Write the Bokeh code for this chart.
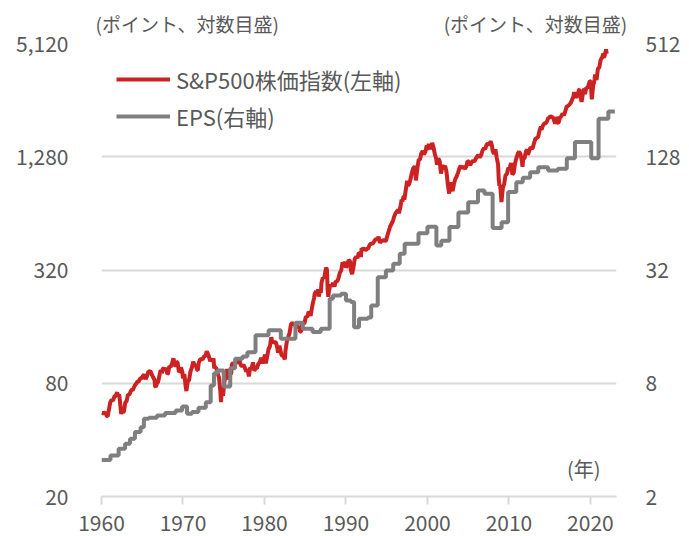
from bokeh.plotting import figure
from bokeh.models import (Range1d, LogScale, LogAxis, FixedTicker, NumeralTickFormatter,
                          Label, Legend, LegendItem)
from bokeh.embed import file_html
from bokeh.resources import INLINE

# ---------------- data ----------------
# S&P500 index (left axis), month-end closes
sp_months = [
    "1960-01", "1960-03", "1960-05", "1960-07", "1960-09", "1960-10", "1960-12",
    "1961-02", "1961-04", "1961-06", "1961-08", "1961-10", "1961-12",
    "1962-01", "1962-03", "1962-04", "1962-05", "1962-06", "1962-08", "1962-09", "1962-10", "1962-12",
    "1963-02", "1963-04", "1963-06", "1963-08", "1963-10", "1963-11", "1963-12",
    "1964-02", "1964-04", "1964-06", "1964-08", "1964-10", "1964-12",
    "1965-02", "1965-04", "1965-06", "1965-08", "1965-10", "1965-12",
    "1966-01", "1966-03", "1966-05", "1966-07", "1966-08", "1966-09", "1966-11", "1966-12",
    "1967-02", "1967-04", "1967-06", "1967-07", "1967-09", "1967-10", "1967-12",
    "1968-02", "1968-03", "1968-05", "1968-07", "1968-09", "1968-11", "1968-12",
    "1969-02", "1969-04", "1969-05", "1969-07", "1969-09", "1969-10", "1969-12",
    "1970-01", "1970-03", "1970-05", "1970-06", "1970-08", "1970-10", "1970-12",
    "1971-02", "1971-04", "1971-06", "1971-08", "1971-10", "1971-11", "1971-12",
    "1972-02", "1972-04", "1972-06", "1972-08", "1972-10", "1972-12",
    "1973-01", "1973-03", "1973-05", "1973-07", "1973-08", "1973-10", "1973-11", "1973-12",
    "1974-02", "1974-04", "1974-06", "1974-07", "1974-08", "1974-09", "1974-10", "1974-11", "1974-12",
    "1975-02", "1975-04", "1975-06", "1975-07", "1975-09", "1975-10", "1975-12",
    "1976-01", "1976-03", "1976-05", "1976-07", "1976-09", "1976-11", "1976-12",
    "1977-02", "1977-04", "1977-06", "1977-08", "1977-10", "1977-12",
    "1978-02", "1978-04", "1978-06", "1978-08", "1978-10", "1978-12",
    "1979-02", "1979-04", "1979-06", "1979-08", "1979-10", "1979-12",
    "1980-02", "1980-03", "1980-05", "1980-07", "1980-09", "1980-11", "1980-12",
    "1981-02", "1981-04", "1981-06", "1981-08", "1981-09", "1981-11", "1981-12",
    "1982-02", "1982-03", "1982-05", "1982-07", "1982-08", "1982-10", "1982-12",
    "1983-02", "1983-04", "1983-06", "1983-08", "1983-10", "1983-12",
    "1984-02", "1984-04", "1984-05", "1984-07", "1984-08", "1984-10", "1984-12",
    "1985-02", "1985-04", "1985-06", "1985-08", "1985-09", "1985-11", "1985-12",
    "1986-02", "1986-03", "1986-05", "1986-07", "1986-08", "1986-09", "1986-11", "1986-12",
    "1987-01", "1987-03", "1987-05", "1987-07", "1987-08", "1987-09", "1987-10", "1987-11", "1987-12",
    "1988-02", "1988-04", "1988-06", "1988-08", "1988-10", "1988-12",
    "1989-02", "1989-04", "1989-06", "1989-08", "1989-10", "1989-12",
    "1990-01", "1990-03", "1990-05", "1990-07", "1990-08", "1990-10", "1990-12",
    "1991-02", "1991-04", "1991-06", "1991-08", "1991-10", "1991-11", "1991-12",
    "1992-02", "1992-04", "1992-06", "1992-08", "1992-10", "1992-12",
    "1993-02", "1993-04", "1993-06", "1993-08", "1993-10", "1993-12",
    "1994-01", "1994-03", "1994-05", "1994-07", "1994-09", "1994-11", "1994-12",
    "1995-02", "1995-04", "1995-06", "1995-08", "1995-10", "1995-12",
    "1996-02", "1996-04", "1996-06", "1996-07", "1996-09", "1996-11", "1996-12",
    "1997-02", "1997-03", "1997-05", "1997-07", "1997-08", "1997-10", "1997-12",
    "1998-02", "1998-04", "1998-06", "1998-07", "1998-08", "1998-10", "1998-12",
    "1999-02", "1999-04", "1999-06", "1999-08", "1999-10", "1999-12",
    "2000-01", "2000-03", "2000-05", "2000-07", "2000-08", "2000-10", "2000-12",
    "2001-02", "2001-03", "2001-05", "2001-07", "2001-09", "2001-11", "2001-12",
    "2002-02", "2002-03", "2002-05", "2002-07", "2002-09", "2002-11", "2002-12",
    "2003-02", "2003-04", "2003-06", "2003-08", "2003-10", "2003-12",
    "2004-02", "2004-04", "2004-06", "2004-08", "2004-10", "2004-12",
    "2005-02", "2005-04", "2005-06", "2005-08", "2005-10", "2005-12",
    "2006-02", "2006-04", "2006-06", "2006-08", "2006-10", "2006-12",
    "2007-02", "2007-04", "2007-06", "2007-08", "2007-10", "2007-12",
    "2008-01", "2008-03", "2008-05", "2008-07", "2008-09", "2008-10", "2008-11", "2008-12",
    "2009-01", "2009-02", "2009-04", "2009-06", "2009-08", "2009-10", "2009-12",
    "2010-02", "2010-04", "2010-06", "2010-08", "2010-10", "2010-12",
    "2011-02", "2011-04", "2011-06", "2011-08", "2011-09", "2011-10", "2011-12",
    "2012-02", "2012-04", "2012-05", "2012-07", "2012-09", "2012-11", "2012-12",
    "2013-02", "2013-04", "2013-06", "2013-08", "2013-10", "2013-12",
    "2014-01", "2014-03", "2014-05", "2014-07", "2014-09", "2014-11", "2014-12",
    "2015-02", "2015-04", "2015-06", "2015-08", "2015-09", "2015-11", "2015-12",
    "2016-01", "2016-02", "2016-04", "2016-06", "2016-08", "2016-10", "2016-12",
    "2017-02", "2017-04", "2017-06", "2017-08", "2017-10", "2017-12",
    "2018-01", "2018-02", "2018-04", "2018-06", "2018-08", "2018-09", "2018-10", "2018-12",
    "2019-02", "2019-04", "2019-05", "2019-07", "2019-09", "2019-11", "2019-12",
    "2020-01", "2020-02", "2020-03", "2020-05", "2020-07", "2020-08", "2020-10", "2020-12",
    "2021-02", "2021-04", "2021-06", "2021-08", "2021-09", "2021-11", "2021-12",
    "2022-01",
]
sp_values = [
    55.6, 55.3, 55.8, 55.5, 53.5, 53.4, 58.1,
    63.4, 65.3, 64.6, 68.1, 68.6, 71.6,
    68.8, 69.6, 65.2, 59.6, 54.8, 59.1, 56.3, 56.5, 63.1,
    64.3, 69.8, 69.4, 72.5, 74.0, 73.2, 75.0,
    77.8, 79.5, 81.7, 81.8, 85.0, 84.8,
    87.4, 89.1, 84.1, 87.2, 92.4, 92.4,
    92.9, 89.2, 86.1, 83.6, 77.1, 76.6, 80.5, 80.3,
    86.8, 94.0, 90.6, 94.8, 96.7, 93.3, 96.5,
    89.4, 90.2, 98.7, 97.7, 102.7, 108.4, 103.9,
    98.1, 103.7, 103.5, 91.8, 93.1, 97.1, 92.1,
    85.0, 89.6, 76.6, 72.7, 81.5, 83.3, 92.2,
    96.8, 104.0, 99.7, 99.0, 94.2, 94.0, 102.1,
    106.6, 107.7, 107.1, 111.1, 111.6, 118.1,
    116.0, 111.5, 104.9, 108.2, 104.3, 108.3, 96.0, 97.6,
    96.2, 90.3, 86.0, 79.3, 72.2, 63.5, 73.9, 70.0, 68.6,
    81.6, 87.3, 95.2, 88.8, 83.9, 89.0, 90.2,
    100.9, 102.8, 100.2, 103.4, 105.2, 102.1, 107.5,
    99.8, 98.4, 100.5, 97.0, 92.3, 95.1,
    87.0, 96.8, 95.5, 103.3, 93.2, 96.1,
    96.3, 101.8, 102.9, 109.3, 101.8, 107.9,
    113.7, 102.1, 111.2, 121.7, 125.5, 140.5, 135.8,
    131.3, 132.8, 131.2, 122.8, 116.2, 126.4, 122.6,
    113.1, 112.0, 111.9, 107.1, 119.5, 133.7, 140.6,
    148.1, 164.4, 168.1, 164.4, 163.6, 164.9,
    157.1, 160.1, 150.6, 150.7, 166.7, 166.1, 167.2,
    181.2, 179.8, 191.9, 188.6, 182.1, 202.2, 211.3,
    226.9, 238.9, 247.4, 236.1, 252.9, 231.3, 249.2, 242.2,
    274.1, 291.7, 290.1, 318.7, 329.8, 321.8, 251.8, 230.3, 247.1,
    267.8, 261.3, 273.5, 261.5, 279.0, 277.7,
    288.9, 309.6, 318.0, 351.5, 340.4, 353.4,
    329.1, 339.9, 361.2, 356.2, 322.6, 304.0, 330.2,
    367.1, 375.3, 371.2, 395.4, 392.5, 375.2, 417.1,
    412.7, 415.0, 408.1, 414.0, 418.7, 435.7,
    443.4, 440.2, 450.5, 463.6, 467.8, 466.5,
    481.6, 445.8, 456.5, 458.3, 462.7, 453.7, 459.3,
    487.4, 514.7, 544.8, 561.9, 581.5, 615.9,
    640.4, 654.2, 670.6, 640.0, 687.3, 757.0, 740.7,
    790.8, 757.1, 848.3, 954.3, 899.5, 914.6, 970.4,
    1049.3, 1111.8, 1133.8, 1120.7, 957.3, 1098.7, 1229.2,
    1238.3, 1335.2, 1372.7, 1320.4, 1362.9, 1469.3,
    1394.5, 1498.6, 1420.6, 1430.8, 1517.7, 1429.4, 1320.3,
    1239.9, 1160.3, 1255.8, 1211.2, 1040.9, 1139.5, 1148.1,
    1106.7, 1147.4, 1067.1, 911.6, 815.3, 936.3, 879.8,
    841.2, 916.9, 974.5, 1008.0, 1050.7, 1111.9,
    1144.9, 1107.3, 1140.8, 1104.2, 1130.2, 1211.9,
    1203.6, 1156.9, 1191.3, 1220.3, 1207.0, 1248.3,
    1280.7, 1310.6, 1270.2, 1303.8, 1377.9, 1418.3,
    1406.8, 1482.4, 1503.4, 1474.0, 1549.4, 1468.4,
    1378.6, 1322.7, 1400.4, 1267.4, 1166.4, 968.8, 896.2, 903.3,
    825.9, 735.1, 872.8, 919.3, 1020.6, 1036.2, 1115.1,
    1104.5, 1186.7, 1030.7, 1049.3, 1183.3, 1257.6,
    1327.2, 1363.6, 1320.6, 1218.9, 1131.4, 1253.3, 1257.6,
    1365.7, 1397.9, 1310.3, 1379.3, 1440.7, 1416.2, 1426.2,
    1514.7, 1597.6, 1606.3, 1633.0, 1756.5, 1848.4,
    1782.6, 1872.3, 1923.6, 1930.7, 1972.3, 2067.6, 2058.9,
    2104.5, 2085.5, 2063.1, 1972.2, 1920.0, 2080.4, 2043.9,
    1940.2, 1932.2, 2065.3, 2098.9, 2171.0, 2126.2, 2238.8,
    2363.6, 2384.2, 2423.4, 2471.7, 2575.3, 2673.6,
    2823.8, 2713.8, 2648.1, 2718.4, 2901.5, 2914.0, 2711.7, 2506.9,
    2784.5, 2945.8, 2752.1, 2980.4, 2976.7, 3141.0, 3230.8,
    3225.5, 2954.2, 2584.6, 3044.3, 3271.1, 3500.3, 3270.0, 3756.1,
    3811.2, 4181.2, 4297.5, 4522.7, 4307.5, 4567.0, 4766.2,
    4515.6,
]

# EPS (right axis), step changes: start year of each level and its value
eps_years = [
    1960.0, 1961.1, 1962.1, 1962.9, 1963.5, 1964.1, 1964.8, 1965.2, 1965.8, 1966.8,
    1967.8, 1969.1, 1969.9, 1970.5, 1971.1, 1971.9, 1972.8, 1973.4, 1973.8, 1974.2,
    1975.0, 1975.8, 1976.4, 1977.3, 1977.9, 1978.9, 1980.5, 1982.0, 1983.8, 1984.7,
    1985.9, 1986.9, 1988.0, 1988.4, 1989.4, 1990.0, 1990.6, 1991.0, 1991.6, 1992.7,
    1993.1, 1993.9, 1994.9, 1995.8, 1996.6, 1997.2, 1998.9, 2000.0, 2001.1, 2001.7,
    2002.7, 2003.8, 2005.0, 2006.2, 2007.0, 2008.0, 2009.1, 2009.9, 2010.9, 2011.7,
    2012.6, 2013.6, 2014.8, 2016.0, 2017.1, 2018.1, 2020.1, 2021.0, 2022.2, 2023.0,
]
eps_values = [
    3.13, 3.30, 3.59, 3.81, 4.05, 4.40, 4.67, 5.18, 5.25, 5.39,
    5.55, 5.73, 6.02, 5.50, 5.62, 5.92, 6.34, 7.78, 9.05, 9.35,
    7.69, 9.6, 10.8, 11.1, 11.7, 14.4, 15.3, 13.8, 16.8, 15.6,
    15.0, 15.6, 22.5, 23.4, 23.9, 22.0, 21.6, 15.9, 17.6, 17.9,
    20.7, 29.3, 31.8, 34.5, 39.0, 44.1, 50.2, 54.4, 43.2, 45.8,
    54.2, 64.6, 73.3, 84.8, 81.5, 53.5, 57.4, 83.2, 93.8, 98.9,
    105.8, 112.6, 108.2, 110.4, 125.6, 153.2, 125.6, 203.8, 223.0, 223.0,
]

left_ticks = [20, 80, 320, 1280, 5120]
right_ticks = [2, 8, 32, 128, 512]
year_ticks = [1960, 1970, 1980, 1990, 2000, 2010, 2020]

series_names = ["S&P500株価指数(左軸)", "EPS(右軸)"]
axis_note = "(ポイント、対数目盛)"
year_note = "(年)"

# ---------------- styling ----------------
FONT = "Noto Sans CJK JP"
TXT = "#595959"
GRID = "#D9D9D9"
RED = "#CC2222"
GRAY = "#7F7F7F"


def month_to_year(s):
    y, m = s.split("-")
    return int(y) + (int(m) - 1) / 12.0


sp_x = [month_to_year(s) for s in sp_months]

p = figure(width=689, height=536, output_backend="svg", toolbar_location=None,
           x_range=Range1d(1960, 2023.2), y_range=Range1d(20, 5120),
           y_axis_type="log",
           min_border_left=101, min_border_right=73, min_border_top=43, min_border_bottom=40)
p.outline_line_color = None
p.background_fill_color = "white"
p.border_fill_color = "white"

# the two axis notes share the title line (left note ... right note)
gap = "\u3000" * 8 + "\u2002" + "\u2006"
p.title.text = axis_note + gap + axis_note
p.title.align = "left"
p.title.offset = -6
p.title.text_font = FONT
p.title.text_font_size = "19px"
p.title.text_font_style = "normal"
p.title.text_color = TXT
p.title.standoff = 14

p.extra_y_ranges = {"eps": Range1d(2, 512)}
p.extra_y_scales = {"eps": LogScale()}

# left axis
la = p.yaxis[0]
la.ticker = FixedTicker(ticks=left_ticks)
la.formatter = NumeralTickFormatter(format="0,0")
la.axis_line_color = None
la.major_tick_line_color = None
la.minor_tick_line_color = None
la.major_label_standoff = 27
la.major_label_text_font = FONT
la.major_label_text_font_size = "21px"
la.major_label_text_color = TXT

# right axis
ra = LogAxis(y_range_name="eps", ticker=FixedTicker(ticks=right_ticks))
ra.formatter = NumeralTickFormatter(format="0,0")
ra.axis_line_color = None
ra.major_tick_line_color = None
ra.minor_tick_line_color = None
ra.major_label_standoff = 23
ra.major_label_text_font = FONT
ra.major_label_text_font_size = "21px"
ra.major_label_text_color = TXT
p.add_layout(ra, "right")

# bottom axis
xa = p.xaxis[0]
xa.ticker = FixedTicker(ticks=year_ticks)
xa.axis_line_color = GRID
xa.axis_line_width = 2
xa.major_tick_line_color = GRID
xa.major_tick_line_width = 2
xa.major_tick_in = 0
xa.major_tick_out = 8
xa.minor_tick_line_color = None
xa.major_label_standoff = 10
xa.major_label_text_font = FONT
xa.major_label_text_font_size = "21px"
xa.major_label_text_color = TXT

p.xgrid.visible = False
p.ygrid.grid_line_color = GRID
p.ygrid.grid_line_width = 2

r_sp = p.line(sp_x, sp_values, line_color=RED, line_width=4)
r_eps = p.step(eps_years, eps_values, mode="after", line_color=GRAY, line_width=4,
               y_range_name="eps")

legend = Legend(items=[LegendItem(label=series_names[0], renderers=[r_sp]),
                       LegendItem(label=series_names[1], renderers=[r_eps])],
                location=(15, 364), orientation="vertical",
                background_fill_alpha=0, border_line_color=None,
                glyph_width=54, glyph_height=30, label_height=30, spacing=5,
                padding=0, margin=0, label_standoff=6,
                label_text_font=FONT, label_text_font_size="22px", label_text_color=TXT)
p.add_layout(legend)

p.add_layout(Label(x=499, y=28, x_units="screen", y_units="screen", text=year_note,
                   text_baseline="middle", text_align="right", text_font=FONT,
                   text_font_size="20px", text_color=TXT))

open("out.html", "w").write(file_html(p, INLINE))
